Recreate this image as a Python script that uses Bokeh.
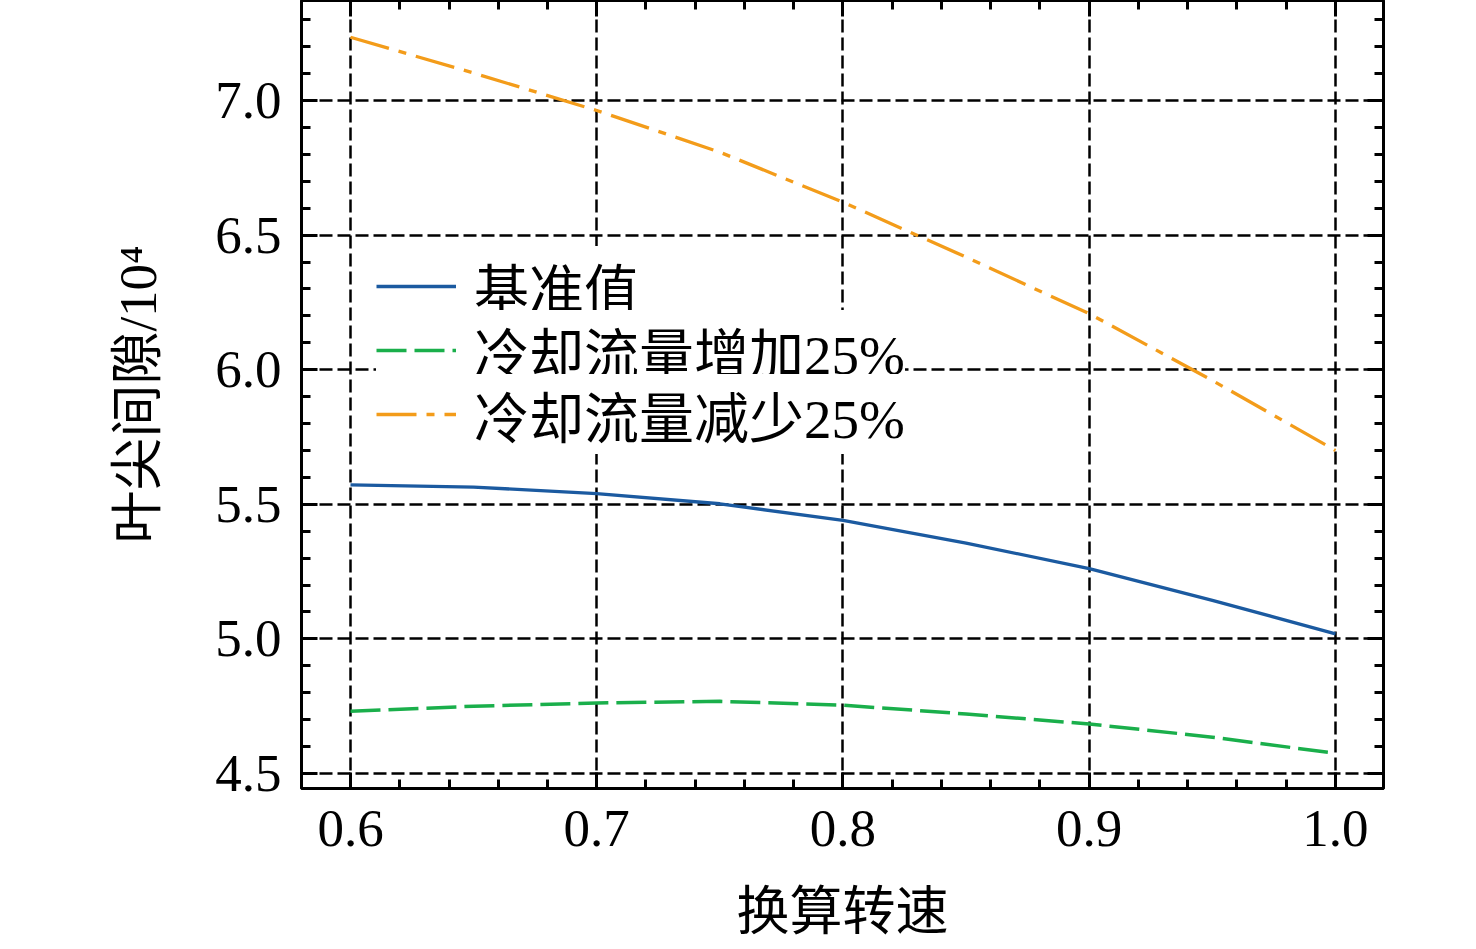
from bokeh.plotting import figure
from bokeh.models import (Range1d, LinearAxis, SingleIntervalTicker, NumeralTickFormatter,
                          CustomJSTickFormatter, Legend, LegendItem)
from bokeh.embed import file_html
from bokeh.resources import INLINE

# ---- data ----
speed = [0.6, 0.65, 0.7, 0.75, 0.8, 0.85, 0.9, 0.95, 1.0]
baseline = [5.572, 5.564, 5.540, 5.502, 5.440, 5.356, 5.261, 5.143, 5.019]
cool_plus = [4.731, 4.750, 4.762, 4.768, 4.754, 4.721, 4.684, 4.635, 4.575]
cool_minus = [7.235, 7.102, 6.963, 6.808, 6.622, 6.418, 6.208, 5.960, 5.700]
series_names = ["基准值", "冷却流量增加25%", "冷却流量减少25%"]
x_title = "换算转速"
y_title = "叶尖间隙/10⁴"

SERIF = "'Liberation Serif', 'Noto Sans CJK SC'"

p = figure(width=1470, height=945, output_backend="svg", toolbar_location=None,
           x_range=Range1d(0.5801, 1.0195), y_range=Range1d(4.4443, 7.3715),
           min_border_left=301, min_border_right=87, min_border_top=0, min_border_bottom=157)
p.background_fill_color = "white"
p.border_fill_color = "white"
p.outline_line_color = "black"
p.outline_line_width = 3

xt = SingleIntervalTicker(interval=0.1, num_minor_ticks=5)
yt = SingleIntervalTicker(interval=0.5, num_minor_ticks=5)

def style_axis(ax, labels=True):
    ax.axis_line_width = 3
    ax.axis_line_color = "black"
    ax.major_tick_in = 16
    ax.major_tick_out = 0
    ax.minor_tick_in = 9
    ax.minor_tick_out = 0
    ax.major_tick_line_width = 3
    ax.minor_tick_line_width = 3
    ax.major_tick_line_color = "black"
    ax.minor_tick_line_color = "black"
    ax.major_label_text_font = SERIF
    ax.major_label_text_color = "black"
    ax.axis_label_text_font = SERIF
    ax.axis_label_text_font_style = "normal"
    ax.axis_label_text_color = "black"
    ax.major_label_text_font_size = "53px"
    ax.axis_label_text_font_size = "53px"
    if not labels:
        ax.formatter = CustomJSTickFormatter(code="return ''")
        ax.major_label_standoff = 0

xa = p.xaxis[0]
xa.ticker = xt
xa.formatter = NumeralTickFormatter(format="0.0")
style_axis(xa)
xa.axis_label = x_title
xa.major_label_standoff = 22
xa.axis_label_standoff = 34

ya = p.yaxis[0]
ya.ticker = yt
ya.formatter = NumeralTickFormatter(format="0.0")
style_axis(ya)
ya.axis_label = y_title
ya.major_label_standoff = 20
ya.axis_label_standoff = 45

top = LinearAxis(ticker=xt)
style_axis(top, labels=False)
p.add_layout(top, "above")
right = LinearAxis(ticker=yt)
style_axis(right, labels=False)
p.add_layout(right, "right")

p.xgrid.ticker = xt
p.ygrid.ticker = yt
for g in (p.xgrid[0], p.ygrid[0]):
    g.grid_line_color = "black"
    g.grid_line_width = 2.5
    g.grid_line_dash = "13 5"

r1 = p.line(speed, baseline, line_color="#1b5aa0", line_width=3.3)
r2 = p.line(speed, cool_plus, line_color="#1aaf4b", line_width=3.5, line_dash="30 8")
r3 = p.line(speed, cool_minus, line_color="#f39c1a", line_width=3.3, line_dash="40 10 8 10")

# one legend per row so that the row pitch matches the reference
legend_rows = [(series_names[0], r1, 462), (series_names[1], r2, 398), (series_names[2], r3, 334)]
for name, rend, ypos in legend_rows:
    lg = Legend(items=[LegendItem(label=name, renderers=[rend])], location=(75, ypos))
    lg.background_fill_color = "white"
    lg.background_fill_alpha = 1.0
    lg.border_line_color = None
    lg.label_text_font = SERIF
    lg.label_text_font_size = "55px"
    lg.label_text_color = "black"
    lg.glyph_width = 80
    lg.glyph_height = 50
    lg.label_height = 50
    lg.label_standoff = 18
    lg.padding = 0
    lg.margin = 0
    p.add_layout(lg, "center")

open("out.html", "w").write(file_html(p, INLINE))
